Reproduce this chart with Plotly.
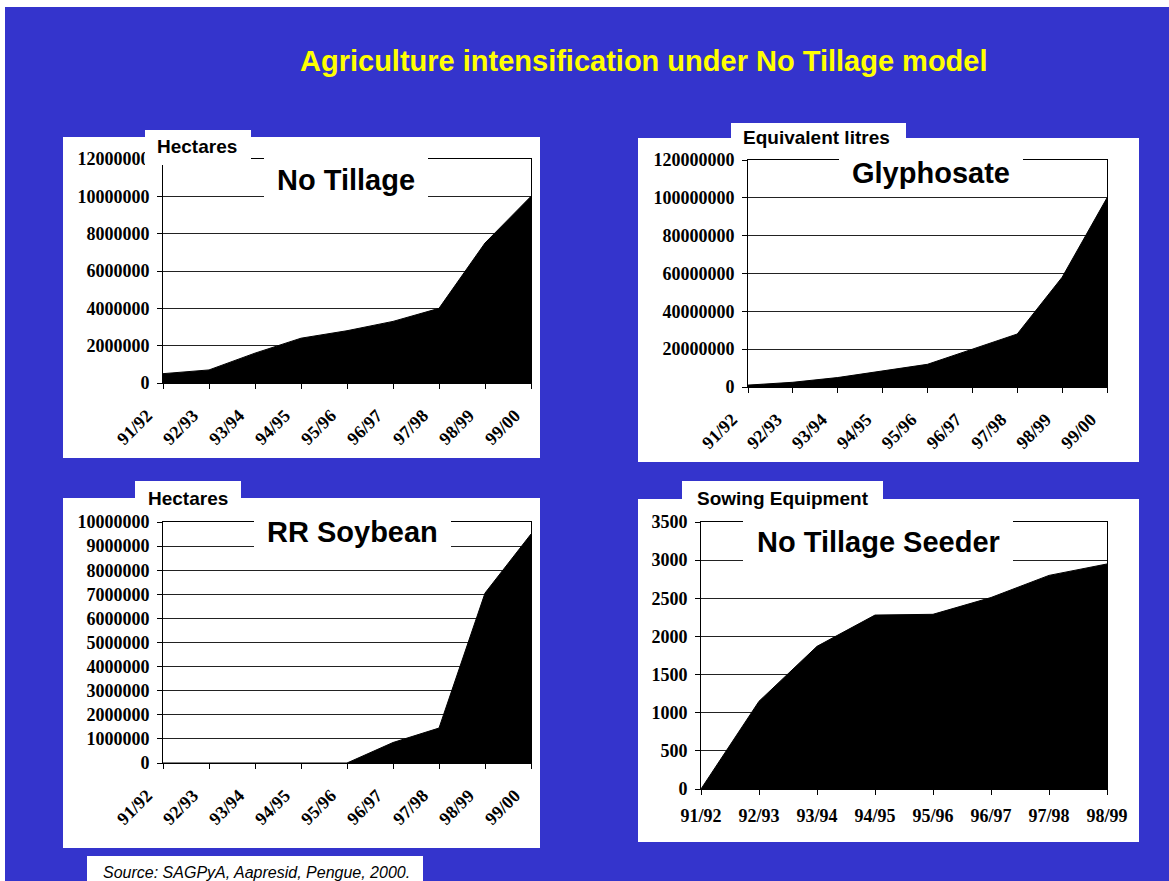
import plotly.graph_objects as go

W, H = 1169, 881

# ---------------- data ----------------
seasons9 = ["91/92", "92/93", "93/94", "94/95", "95/96", "96/97", "97/98", "98/99", "99/00"]
seasons8 = ["91/92", "92/93", "93/94", "94/95", "95/96", "96/97", "97/98", "98/99"]
no_tillage_ha = [500000, 700000, 1600000, 2400000, 2800000, 3300000, 4000000, 7500000, 10000000]
glyphosate_litres = [1000000, 2500000, 5000000, 8500000, 12000000, 20000000, 28000000, 58000000, 100000000]
rr_soybean_ha = [0, 0, 0, 0, 0, 850000, 1450000, 7050000, 9500000]
seeders = [0, 1150, 1870, 2280, 2290, 2510, 2800, 2950]

BLUE = "#3434CC"
SANS = "Liberation Sans, Arial, sans-serif"
SERIF = "Liberation Serif, Times New Roman, serif"


def px(x):
    return x / W


def py(y):
    return 1 - y / H


fig = go.Figure()

panels = [
    (seasons9, no_tillage_ha, "", 12000000, 2000000, (163, 531), (383, 159), -45),
    (seasons9, glyphosate_litres, "2", 120000000, 20000000, (748, 1107), (387, 160), -45),
    (seasons9, rr_soybean_ha, "3", 10000000, 1000000, (163, 531), (763, 522), -45),
    (seasons8, seeders, "4", 3500, 500, (701, 1107), (789, 522), 0),
]

layout_axes = {}
for cats, vals, suf, ymax, dtick, xd, yd, ang in panels:
    fig.add_trace(go.Scatter(
        x=cats, y=vals, mode="lines", fill="tozeroy",
        fillcolor="black", line=dict(color="black", width=1),
        xaxis="x" + suf, yaxis="y" + suf, showlegend=False, hoverinfo="x+y",
    ))
    rotated = ang != 0
    layout_axes["xaxis" + suf] = dict(
        domain=[px(xd[0]), px(xd[1])], anchor="y" + suf, automargin=False,
        type="category", range=[0, len(cats) - 1],
        showline=True, linecolor="black", linewidth=1, mirror=True,
        ticks="outside", ticklen=5, tickcolor="black",
        showgrid=False, zeroline=False, tickangle=ang,
        ticklabelstandoff=9 if rotated else 5,
        ticklabelshift=-16 if rotated else 0,
        tickfont=dict(family=SERIF, size=18, color="black", weight="bold"),
    )
    layout_axes["yaxis" + suf] = dict(
        domain=[py(yd[0]), py(yd[1])], anchor="x" + suf, automargin=False,
        range=[0, ymax], dtick=dtick, tick0=0, tickformat="d",
        showline=True, linecolor="black", linewidth=1, mirror=True,
        ticks="outside", ticklen=5, tickcolor="black", ticklabelstandoff=4,
        showgrid=True, gridcolor="#222222", gridwidth=1, zeroline=False,
        tickfont=dict(family=SERIF, size=18, color="black", weight="bold"),
    )

shapes = []
# blue slide background
shapes.append(dict(type="rect", xref="paper", yref="paper", x0=px(5), x1=1, y0=0, y1=py(7),
                   fillcolor=BLUE, line=dict(width=0), layer="below"))
# white panels
for (x0, y0, x1, y1) in [(63, 137, 540, 458), (638, 138, 1139, 462),
                         (63, 498, 540, 848), (638, 499, 1139, 842)]:
    shapes.append(dict(type="rect", xref="paper", yref="paper", x0=px(x0), x1=px(x1),
                       y0=py(y1), y1=py(y0), fillcolor="white", line=dict(width=0), layer="below"))
# label boxes and title boxes (above axes)
for (x0, y0, x1, y1) in [(145, 130, 251, 165), (731, 123, 906, 152),
                         (135, 481, 241, 512), (682, 481, 883, 512),
                         (264, 150, 428, 204), (839, 150, 1023, 192),
                         (254, 512, 451, 553), (743, 515, 1013, 567),
                         (87, 856, 423, 881)]:
    shapes.append(dict(type="rect", xref="paper", yref="paper", x0=px(x0), x1=px(x1),
                       y0=py(y1), y1=py(y0), fillcolor="white", line=dict(width=0), layer="above"))

annotations = []


def note(text, x, y, size, color="black", xanchor="center", bold=True, italic=False):
    annotations.append(dict(
        text=text, x=px(x), y=py(y), xref="paper", yref="paper",
        xanchor=xanchor, yanchor="middle", showarrow=False,
        font=dict(family=SANS, size=size, color=color,
                  weight="bold" if bold else "normal",
                  style="italic" if italic else "normal"),
    ))


note("Agriculture intensification under No Tillage model", 644, 61, 29, color="#FFFF00")
note("Hectares", 197, 147, 19)
note("Equivalent litres", 816, 137, 19)
note("Hectares", 188, 499, 19)
note("Sowing Equipment", 783, 499, 19)
note("No Tillage", 346, 180, 29)
note("Glyphosate", 931, 173, 29)
note("RR Soybean", 352, 532, 29)
note("No Tillage Seeder", 878, 542, 29)
note("Source: SAGPyA, Aapresid, Pengue, 2000.", 101, 872, 16, xanchor="left", bold=False, italic=True)

fig.update_layout(
    width=W, height=H, margin=dict(l=0, r=0, t=0, b=0, autoexpand=False),
    paper_bgcolor="white", plot_bgcolor="rgba(0,0,0,0)",
    shapes=shapes, annotations=annotations, showlegend=False,
    **layout_axes,
)

fig.write_html(
    "out.html",
    config={"displayModeBar": False},
    post_script="document.body.style.margin='0';document.body.style.overflow='hidden';",
)
